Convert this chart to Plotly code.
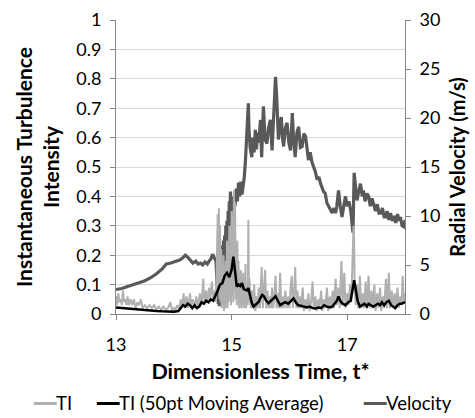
import plotly.graph_objects as go

# ---- data ----
ti_t = [13.00,13.02,13.04,13.06,13.08,13.10,13.12,13.14,13.16,13.18,13.20,13.22,13.25,13.28,13.31,13.34,13.37,13.40,13.43,13.46,
        13.50,13.54,13.58,13.62,13.66,13.70,13.74,13.78,13.82,13.86,13.90,13.94,13.97,14.00,14.03,14.06,14.09,14.12,14.14,14.17,
        14.19,14.22,14.25,14.28,14.30,14.33,14.36,14.39,14.42,14.45,14.48,14.51,14.53,14.56,14.58,14.61,14.63,14.66,14.68,14.70,
        14.72,14.74,14.76,14.77,14.78,14.79,14.80,14.81,14.82,14.83,14.84,14.85,14.86,14.87,14.88,14.89,14.90,14.91,14.92,14.93,
        14.94,14.95,14.96,14.97,14.98,14.99,15.00,15.01,15.02,15.03,15.04,15.05,15.06,15.07,15.08,15.09,15.10,15.11,15.12,15.13,
        15.14,15.15,15.16,15.17,15.18,15.19,15.20,15.21,15.22,15.23,15.24,15.25,15.27,15.28,15.29,15.30,15.31,15.33,15.35,15.37,
        15.39,15.41,15.43,15.45,15.47,15.49,15.52,15.54,15.56,15.58,15.60,15.62,15.64,15.66,15.68,15.70,15.72,15.74,15.76,15.78,
        15.80,15.82,15.84,15.86,15.88,15.90,15.93,15.95,15.98,16.00,16.02,16.04,16.06,16.08,16.10,16.12,16.14,16.16,16.18,16.20,
        16.23,16.25,16.28,16.30,16.33,16.35,16.38,16.40,16.42,16.45,16.47,16.50,16.52,16.55,16.57,16.60,16.62,16.65,16.67,16.70,
        16.72,16.75,16.77,16.80,16.82,16.85,16.87,16.90,16.92,16.95,16.97,17.00,17.02,17.05,17.07,17.09,17.10,17.11,17.12,17.13,
        17.15,17.17,17.19,17.22,17.24,17.27,17.29,17.32,17.34,17.37,17.39,17.42,17.44,17.47,17.49,17.52,17.54,17.57,17.59,17.62,
        17.64,17.67,17.69,17.72,17.74,17.77,17.79,17.82,17.84,17.87,17.89,17.92,17.94,17.96,17.98,18.00]
ti_v = [0.06,0.03,0.07,0.04,0.05,0.03,0.08,0.04,0.05,0.03,0.06,0.03,0.05,0.03,0.05,0.02,0.04,0.03,0.05,0.02,
        0.03,0.02,0.03,0.02,0.03,0.015,0.025,0.015,0.025,0.015,0.02,0.04,0.01,0.02,0.015,0.03,0.015,0.05,0.02,0.07,
        0.02,0.06,0.02,0.07,0.03,0.05,0.02,0.06,0.02,0.07,0.03,0.12,0.03,0.08,0.04,0.09,0.05,0.11,0.05,0.08,
        0.04,0.12,0.34,0.08,0.36,0.05,0.30,0.04,0.22,0.02,0.15,0.03,0.20,0.01,0.12,0.02,0.18,0.03,0.25,0.02,
        0.15,0.04,0.30,0.05,0.22,0.03,0.35,0.06,0.28,0.04,0.42,0.08,0.38,0.05,0.20,0.03,0.25,0.06,0.18,0.02,
        0.12,0.03,0.15,0.02,0.10,0.03,0.14,0.02,0.08,0.03,0.17,0.02,0.10,0.03,0.32,0.04,0.12,0.02,0.08,0.02,
        0.10,0.01,0.06,0.02,0.09,0.02,0.16,0.02,0.07,0.15,0.02,0.08,0.02,0.06,0.02,0.09,0.02,0.06,0.13,0.02,
        0.07,0.02,0.14,0.02,0.06,0.02,0.08,0.02,0.06,0.02,0.09,0.13,0.02,0.07,0.16,0.02,0.08,0.02,0.06,0.02,
        0.09,0.01,0.05,0.02,0.07,0.01,0.05,0.11,0.02,0.06,0.01,0.05,0.02,0.08,0.01,0.05,0.02,0.09,0.01,0.06,
        0.02,0.08,0.02,0.12,0.03,0.09,0.02,0.18,0.03,0.14,0.02,0.07,0.03,0.10,0.04,0.16,0.27,0.30,0.25,0.08,
        0.03,0.10,0.02,0.13,0.02,0.07,0.02,0.11,0.02,0.13,0.02,0.08,0.02,0.10,0.01,0.07,0.02,0.09,0.01,0.06,
        0.02,0.12,0.02,0.14,0.02,0.08,0.02,0.07,0.02,0.09,0.02,0.06,0.03,0.13,0.04,0.07]

ma_t = [13.00,13.10,13.20,13.30,13.40,13.50,13.60,13.70,13.80,13.90,14.00,14.08,14.12,14.16,14.20,14.24,14.28,14.32,14.36,14.40,
        14.44,14.48,14.52,14.56,14.60,14.64,14.68,14.72,14.76,14.80,14.84,14.88,14.92,14.96,15.00,15.03,15.06,15.09,15.12,15.15,
        15.18,15.21,15.24,15.27,15.29,15.32,15.35,15.38,15.41,15.44,15.47,15.50,15.53,15.56,15.60,15.64,15.68,15.72,15.76,15.80,
        15.84,15.88,15.93,15.98,16.03,16.07,16.11,16.15,16.20,16.25,16.30,16.35,16.40,16.45,16.50,16.55,16.60,16.65,16.70,16.74,
        16.78,16.82,16.85,16.88,16.92,16.97,17.02,17.06,17.09,17.12,17.15,17.18,17.22,17.26,17.30,17.34,17.37,17.41,17.45,17.49,
        17.53,17.57,17.60,17.64,17.68,17.72,17.76,17.80,17.83,17.87,17.91,17.95,18.00]
ma_v = [0.022,0.020,0.018,0.016,0.014,0.012,0.011,0.010,0.009,0.008,0.008,0.010,0.020,0.030,0.025,0.035,0.030,0.020,0.030,0.020,
        0.025,0.040,0.035,0.045,0.040,0.050,0.045,0.060,0.080,0.100,0.105,0.130,0.140,0.125,0.150,0.195,0.150,0.093,0.100,0.095,
        0.105,0.085,0.082,0.080,0.088,0.060,0.037,0.025,0.030,0.035,0.042,0.055,0.065,0.060,0.045,0.037,0.045,0.055,0.060,0.045,
        0.030,0.035,0.040,0.035,0.045,0.053,0.040,0.030,0.028,0.025,0.022,0.025,0.020,0.019,0.022,0.020,0.030,0.025,0.022,0.025,
        0.035,0.045,0.060,0.045,0.035,0.030,0.040,0.045,0.080,0.115,0.080,0.045,0.025,0.030,0.035,0.025,0.035,0.030,0.025,0.030,
        0.035,0.030,0.040,0.030,0.040,0.045,0.030,0.025,0.020,0.030,0.035,0.036,0.040]

vel_t = [13.00,13.10,13.20,13.30,13.40,13.50,13.60,13.70,13.80,13.87,13.95,14.04,14.10,14.15,14.20,14.24,14.28,14.33,14.38,14.42,
         14.46,14.50,14.54,14.58,14.61,14.64,14.67,14.70,14.73,14.75,14.76,14.77,14.78,14.79,14.80,14.81,14.82,14.83,14.84,14.85,
         14.86,14.87,14.88,14.89,14.90,14.91,14.92,14.93,14.94,14.95,14.96,14.97,14.98,14.99,15.00,15.02,15.04,15.06,15.08,15.10,
         15.12,15.14,15.16,15.18,15.20,15.22,15.24,15.26,15.28,15.29,15.30,15.32,15.35,15.37,15.39,15.41,15.43,15.45,15.47,15.50,
         15.52,15.55,15.58,15.61,15.64,15.67,15.70,15.73,15.76,15.78,15.81,15.84,15.86,15.88,15.90,15.93,15.96,15.99,16.02,16.05,
         16.07,16.10,16.13,16.16,16.19,16.22,16.25,16.28,16.31,16.33,16.36,16.39,16.42,16.45,16.48,16.51,16.54,16.56,16.59,16.62,
         16.65,16.68,16.71,16.74,16.77,16.80,16.82,16.85,16.88,16.91,16.94,16.97,17.00,17.03,17.06,17.08,17.10,17.12,17.14,17.17,
         17.20,17.23,17.26,17.28,17.31,17.34,17.37,17.40,17.43,17.46,17.49,17.52,17.55,17.58,17.61,17.64,17.66,17.69,17.72,17.75,
         17.78,17.81,17.84,17.87,17.90,17.92,17.95,17.98,18.00]
vel_v = [2.5,2.6,2.8,3.0,3.2,3.4,3.7,4.1,4.6,5.1,5.2,5.4,5.5,5.7,6.0,5.8,5.5,5.2,5.4,5.1,
         5.2,5.0,5.3,5.1,5.4,5.6,6.1,5.8,5.4,2.8,4.0,1.0,4.5,0.8,5.0,1.5,6.0,2.5,7.0,3.5,
         7.5,4.5,8.0,5.5,9.0,6.5,9.5,7.0,10.5,8.0,11.5,9.0,12.5,10.0,12.0,10.5,12.0,11.0,12.8,11.5,
         13.4,12.0,13.5,12.2,13.0,14.0,15.7,18.4,20.0,21.5,19.0,17.0,16.0,18.0,16.5,18.8,16.8,18.5,17.5,19.8,
         16.0,21.2,17.8,17.4,19.0,19.8,16.7,21.2,24.2,22.2,17.8,19.5,20.1,18.0,17.1,19.0,19.5,17.5,16.7,20.5,
         18.0,16.0,18.5,19.1,17.0,17.1,18.4,18.1,16.5,15.7,16.5,15.5,15.0,14.5,13.7,14.0,13.3,13.0,12.5,12.3,
         11.3,11.0,10.6,10.3,10.8,10.3,11.0,12.6,11.0,9.9,11.0,12.0,11.0,11.5,10.6,9.5,8.3,14.4,13.0,11.6,
         12.5,13.3,12.0,12.6,11.5,12.3,12.0,11.0,11.8,11.0,10.5,11.2,10.3,10.3,10.8,9.9,9.9,10.5,9.6,10.3,
         9.5,10.0,9.3,10.2,9.5,9.9,9.0,8.9,9.6]

x_ticks = [13, 15, 17]
ti_ticks = [0, 0.1, 0.2, 0.3, 0.4, 0.5, 0.6, 0.7, 0.8, 0.9, 1]
vel_ticks = [0, 5, 10, 15, 20, 25, 30]
legend_names = ["TI", "TI (50pt Moving Average)", "Velocity"]

FONT = "Lato"
AXIS_COL = "#868686"
GRID_COL = "#d9d9d9"
C_TI, C_MA, C_VEL = "#b0b0b0", "#000000", "#595959"

fig = go.Figure()
# velocity on the base axis (right side) so the TI traces draw on top of it
fig.add_trace(go.Scatter(x=vel_t, y=vel_v, mode="lines", name=legend_names[2],
                         line=dict(color=C_VEL, width=3.2), yaxis="y"))
fig.add_trace(go.Scatter(x=ti_t, y=ti_v, mode="lines", name=legend_names[0],
                         line=dict(color=C_TI, width=2), yaxis="y2"))
fig.add_trace(go.Scatter(x=ma_t, y=ma_v, mode="lines", name=legend_names[1],
                         line=dict(color=C_MA, width=2.5), yaxis="y2"))

# legend drawn as text entries (Excel style short line samples)
PLOT_L, PLOT_W = 116, 289
leg_px = [31, 94, 361]
leg_cols = [C_TI, C_MA, C_VEL]
annotations = []
for name, px, col in zip(legend_names, leg_px, leg_cols):
    annotations.append(dict(
        xref="paper", yref="paper", x=(px - PLOT_L) / PLOT_W, y=(314 - 403) / 294,
        xanchor="left", yanchor="middle", showarrow=False,
        text="<span style='color:%s'>━━</span>%s" % (col, name),
        font=dict(family=FONT, size=18.5, color="#000000")))

fig.update_layout(
    width=475, height=418,
    margin=dict(l=116, r=70, t=20, b=104, autoexpand=False),
    paper_bgcolor="white", plot_bgcolor="white",
    font=dict(family=FONT, size=18, color="#000000"),
    showlegend=False,
    annotations=annotations,
    xaxis=dict(range=[13, 18], tickvals=x_ticks, ticktext=[str(v) for v in x_ticks],
               ticks="outside", ticklen=5, tickcolor=AXIS_COL, showline=True, linecolor=AXIS_COL,
               showgrid=False, zeroline=False, ticklabelstandoff=9,
               title=dict(text="<b>Dimensionless Time, t*</b>", font=dict(family=FONT, size=21.5), standoff=10)),
    yaxis=dict(range=[0, 30], tickvals=vel_ticks, side="right", ticks="outside", ticklen=5,
               tickcolor=AXIS_COL, showline=True, linecolor=AXIS_COL, showgrid=False, zeroline=False,
               ticklabelstandoff=5,
               title=dict(text="<b>Radial Velocity (m/s)</b>", font=dict(family=FONT, size=20), standoff=11)),
    yaxis2=dict(range=[0, 1], tickvals=ti_ticks, ticktext=[("%g" % v) for v in ti_ticks],
                overlaying="y", side="left", ticks="outside", ticklen=5, tickcolor=AXIS_COL,
                showline=True, linecolor=AXIS_COL, showgrid=True, gridcolor=GRID_COL, gridwidth=1,
                zeroline=False, ticklabelstandoff=5,
                title=dict(text="<b>Instantaneous Turbulence<br>Intensity</b>", font=dict(family=FONT, size=21), standoff=10)),
)

fig.write_html("out.html", config={"displayModeBar": False},
               post_script="document.body.style.margin='0';document.body.style.padding='0';")
